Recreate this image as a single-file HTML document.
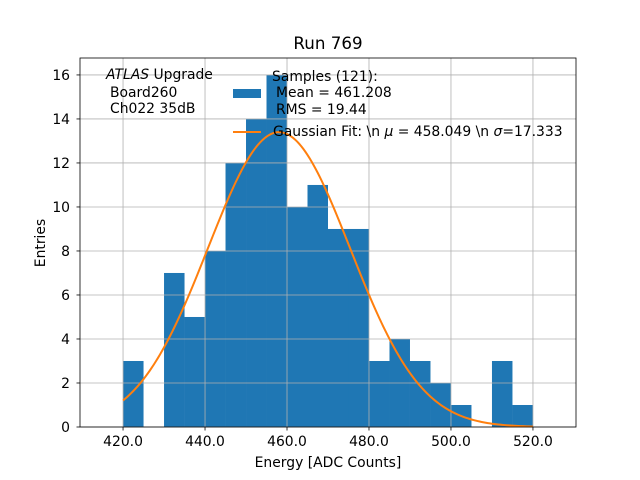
<!DOCTYPE html>
<html><head><meta charset="utf-8"><style>
body{margin:0;background:#fff}
svg{font-family:"DejaVu Sans","Liberation Sans",sans-serif;display:block}
</style></head><body>
<svg id="c" width="640" height="480" viewBox="0 0 640 480">
<rect width="640" height="480" fill="#fff"/>
<g id="bars"></g><g id="grid"></g><g id="fit"></g><g id="axes"></g>
</svg>
<script>
const binStarts=[420,425,430,435,440,445,450,455,460,465,470,475,480,485,490,495,500,505,510,515];
const counts=[3,0,7,5,8,12,14,16,10,11,9,9,3,4,3,2,1,0,3,1];
const xTicks=[420,440,460,480,500,520];
const yTicks=[0,2,4,6,8,10,12,14,16];
const fitMu=458.049, fitSigma=17.333, fitAmp=13.4;
const binW=5;
const L=80,R=576,T=58,B=427;
const xmin=409.5,xmax=530.5,ymin=0,ymax=16.77;
const X=v=>L+(v-xmin)/(xmax-xmin)*(R-L);
const Y=v=>B-(v-ymin)/(ymax-ymin)*(B-T);
const NS="http://www.w3.org/2000/svg";
function mk(t,a,p){const e=document.createElementNS(NS,t);for(const k in a)e.setAttribute(k,a[k]);p.appendChild(e);return e;}
const bars=document.getElementById('bars'),grid=document.getElementById('grid'),fit=document.getElementById('fit'),axes=document.getElementById('axes');
binStarts.forEach((s,i)=>{if(!counts[i])return;
 const r=mk('rect',{x:X(s),y:Y(counts[i]),width:X(s+binW)-X(s),height:Y(0)-Y(counts[i]),fill:'#1f77b4'},bars);
 
 });
xTicks.forEach(v=>{const l=mk('line',{x1:X(v),x2:X(v),y1:T,y2:B,stroke:'#b0b0b0','stroke-width':0.8},grid);
 
 mk('line',{x1:X(v),x2:X(v),y1:B,y2:B+3.5,stroke:'#000','stroke-width':0.8},axes);
 const t=mk('text',{x:X(v),y:B+19,'font-size':13.9,'text-anchor':'middle'},axes);t.textContent=v.toFixed(1);
 });
yTicks.forEach(v=>{const l=mk('line',{x1:L,x2:R,y1:Y(v),y2:Y(v),stroke:'#b0b0b0','stroke-width':0.8},grid);
 
 mk('line',{x1:L-3.5,x2:L,y1:Y(v),y2:Y(v),stroke:'#000','stroke-width':0.8},axes);
 const t=mk('text',{x:L-10,y:Y(v)+5,'font-size':13.9,'text-anchor':'end'},axes);t.textContent=v;
 });
let d='';for(let i=0;i<=200;i++){const x=420+i*0.5;const y=fitAmp*Math.exp(-((x-fitMu)**2)/(2*fitSigma**2));d+=(i?'L':'M')+X(x).toFixed(2)+','+Y(y).toFixed(2);}
const p=mk('path',{d:d,fill:'none',stroke:'#ff7f0e','stroke-width':2},fit);

const fr=mk('rect',{x:L,y:T,width:R-L,height:B-T,fill:'none',stroke:'#000','stroke-width':0.8},axes);

</script>
<svg style="position:absolute;left:0;top:0" width="640" height="480">
<g font-family="DejaVu Sans, Liberation Sans, sans-serif" fill="#000">
<text x="328" y="49" font-size="16.7" text-anchor="middle">Run 769</text>
<text x="328" y="467" font-size="13.9" text-anchor="middle">Energy [ADC Counts]</text>
<text transform="translate(45,243) rotate(-90)" font-size="13.9" text-anchor="middle">Entries</text>
<text x="106" y="79" font-size="13.9"><tspan font-style="italic">ATLAS</tspan> Upgrade</text>
<text x="110" y="97" font-size="13.9">Board260</text>
<text x="110" y="113" font-size="13.9">Ch022 35dB</text>
<rect x="233" y="89" width="28" height="9" fill="#1f77b4"/>
<text x="272" y="81" font-size="13.9">Samples (121):</text>
<text x="276" y="97" font-size="13.9">Mean = 461.208</text>
<text x="276" y="114" font-size="13.9">RMS = 19.44</text>
<line x1="233" x2="261" y1="132" y2="132" stroke="#ff7f0e" stroke-width="2"/>
<text x="273" y="136" font-size="13.9">Gaussian Fit: \n <tspan font-style="italic">μ</tspan> = 458.049 \n <tspan font-style="italic">σ</tspan>=17.333</text>
</g></svg>
</body></html>
